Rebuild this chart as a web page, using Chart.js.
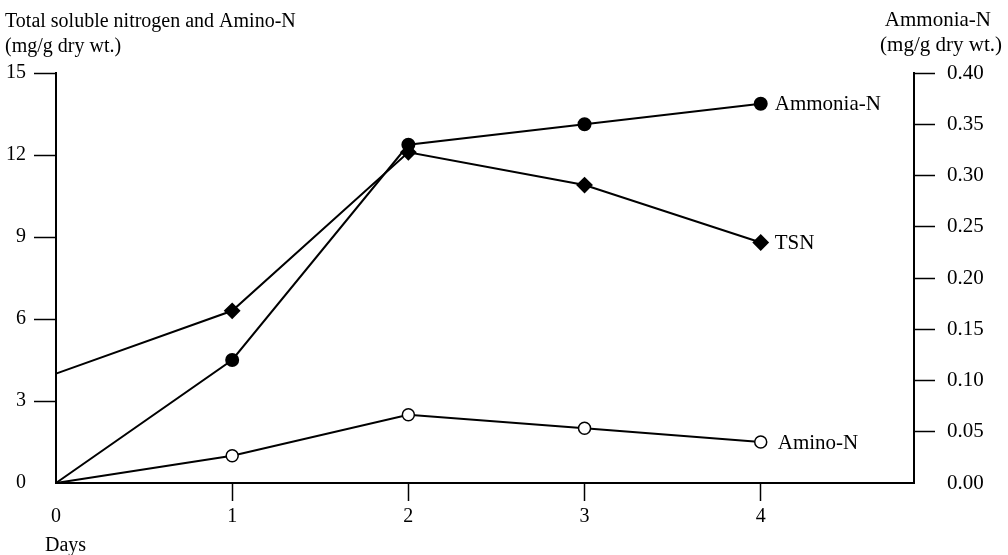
<!DOCTYPE html>
<html>
<head>
<meta charset="utf-8">
<script src="https://cdn.jsdelivr.net/npm/chart.js@4/dist/chart.umd.min.js"></script>
<style>
  html, body { margin: 0; padding: 0; background: #fff; }
  #wrap { width: 1008px; height: 555px; }
</style>
</head>
<body>
<div id="wrap"><canvas id="nitrogenChart" width="1008" height="555"></canvas></div>
<script>
// values
const days = [0, 1, 2, 3, 4];
const tsn = [4.0, 6.3, 12.1, 10.9, 8.8];        // mg/g dry wt., left axis
const aminoN = [0, 1.0, 2.5, 2.0, 1.5];         // mg/g dry wt., left axis
const ammoniaN = [0, 0.12, 0.33, 0.35, 0.37];   // mg/g dry wt., right axis
const leftTicks = [0, 3, 6, 9, 12, 15];
const rightTicks = [0, 0.05, 0.10, 0.15, 0.20, 0.25, 0.30, 0.35, 0.40];
const seriesNames = ['Ammonia-N', 'TSN', 'Amino-N'];

const FONT = '"Liberation Serif", "Times New Roman", serif';

function pts(ys) {
  return days.map((d, i) => ({ x: d, y: ys[i] }));
}

// labels at the end of each line + the axis captions
const labelPlugin = {
  id: 'labels',
  afterDraw(chart) {
    const ctx = chart.ctx;
    ctx.save();
    ctx.fillStyle = '#000';
    ctx.font = '21px ' + FONT;
    ctx.textBaseline = 'middle';
    chart.data.datasets.forEach((ds, i) => {
      const meta = chart.getDatasetMeta(i);
      const last = meta.data[meta.data.length - 1];
      ctx.textAlign = 'left';
      ctx.fillText(seriesNames[i], last.x + (i === 2 ? 17 : 14), last.y + 1);
    });
    ctx.font = '20px ' + FONT;
    ctx.textAlign = 'left';
    ctx.fillText('Total soluble nitrogen and Amino-N', 5, 22);
    ctx.fillText('(mg/g dry wt.)', 5, 47);
    ctx.fillText('Days', 45, 546);
    ctx.font = '21px ' + FONT;
    ctx.textAlign = 'right';
    ctx.fillText('Ammonia-N', 991, 20);
    ctx.fillText('(mg/g dry wt.)', 1002, 45);
    ctx.restore();
  }
};

const hideZero = c => (c.tick && c.tick.value === 0) ? 'rgba(0,0,0,0)' : '#000';

const ctx = document.getElementById('nitrogenChart').getContext('2d');
const nitrogenChart = new Chart(ctx, {
  type: 'line',
  data: {
    datasets: [{
      label: 'Ammonia-N',
      data: pts(ammoniaN),
      yAxisID: 'y2',
      borderColor: '#000',
      backgroundColor: '#000',
      borderWidth: 2,
      pointStyle: 'circle',
      pointRadius: [0, 6, 6, 6, 6],
      tension: 0
    }, {
      label: 'TSN',
      data: pts(tsn),
      yAxisID: 'y',
      borderColor: '#000',
      backgroundColor: '#000',
      borderWidth: 2,
      pointStyle: 'rectRot',
      pointRadius: [0, 7, 7, 7, 7],
      tension: 0
    }, {
      label: 'Amino-N',
      data: pts(aminoN),
      yAxisID: 'y',
      borderColor: '#000',
      backgroundColor: '#fff',
      borderWidth: 2,
      pointBorderWidth: 1.5,
      pointStyle: 'circle',
      pointRadius: [0, 6, 6, 6, 6],
      tension: 0
    }]
  },
  options: {
    responsive: false,
    animation: false,
    clip: false,
    layout: { padding: { top: 73, left: 0, right: 0, bottom: 0 } },
    plugins: {
      legend: { display: false },
      tooltip: { enabled: false }
    },
    scales: {
      x: {
        type: 'linear',
        min: 0,
        max: 4.87,
        afterBuildTicks: s => { s.ticks = days.map(v => ({ value: v })); },
        afterFit: s => { s.height = 72; },
        border: { display: true, color: '#000', width: 2 },
        grid: { drawOnChartArea: false, tickLength: 18, tickColor: hideZero, tickWidth: 1.5 },
        ticks: { color: '#000', font: { family: FONT, size: 20 }, padding: 4, maxRotation: 0 }
      },
      y: {
        position: 'left',
        min: 0,
        max: 15,
        afterBuildTicks: s => { s.ticks = leftTicks.map(v => ({ value: v })); },
        afterFit: s => { s.width = 56; },
        border: { display: true, color: '#000', width: 2 },
        grid: { drawOnChartArea: false, tickLength: 22, tickColor: hideZero, tickWidth: 1.5 },
        ticks: { color: '#000', font: { family: FONT, size: 20 }, padding: 8 }
      },
      y2: {
        position: 'right',
        min: 0,
        max: 0.40,
        afterBuildTicks: s => { s.ticks = rightTicks.map(v => ({ value: v })); },
        afterFit: s => { s.width = 94; },
        border: { display: true, color: '#000', width: 2 },
        grid: { drawOnChartArea: false, tickLength: 21, tickColor: hideZero, tickWidth: 1.5 },
        ticks: { color: '#000', font: { family: FONT, size: 21 }, padding: 12,
                 callback: v => v.toFixed(2) }
      }
    }
  },
  plugins: [labelPlugin]
});
</script>
</body>
</html>
